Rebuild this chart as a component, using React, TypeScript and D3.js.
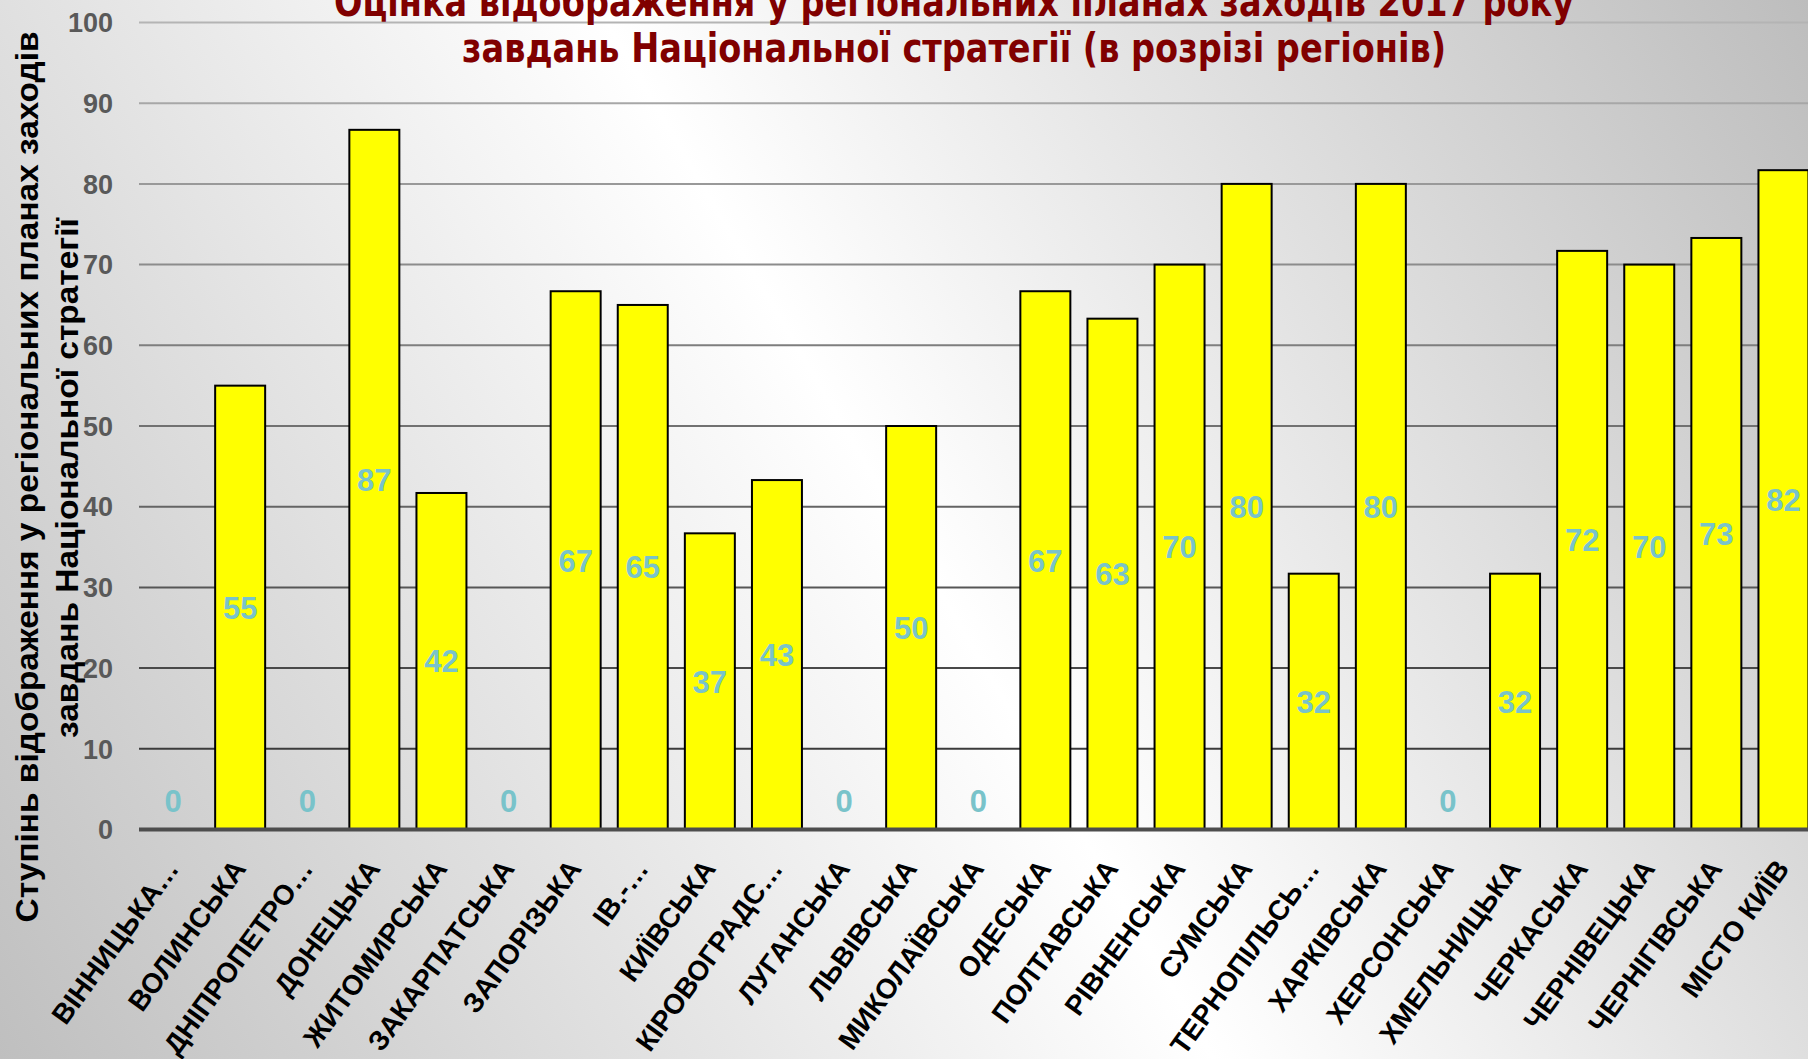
import React from 'react';
import * as d3 from 'd3';

const W = 1808;
const H = 1059;

// regions (as printed on the axis, truncated like the original)
const regions = [
    'ВІННИЦЬКА…', 'ВОЛИНСЬКА', 'ДНІПРОПЕТРО…', 'ДОНЕЦЬКА', 'ЖИТОМИРСЬКА',
    'ЗАКАРПАТСЬКА', 'ЗАПОРІЗЬКА', 'ІВ.-…', 'КИЇВСЬКА', 'КІРОВОГРАДС…',
    'ЛУГАНСЬКА', 'ЛЬВІВСЬКА', 'МИКОЛАЇВСЬКА', 'ОДЕСЬКА', 'ПОЛТАВСЬКА',
    'РІВНЕНСЬКА', 'СУМСЬКА', 'ТЕРНОПІЛЬСЬ…', 'ХАРКІВСЬКА', 'ХЕРСОНСЬКА',
    'ХМЕЛЬНИЦЬКА', 'ЧЕРКАСЬКА', 'ЧЕРНІВЕЦЬКА', 'ЧЕРНІГІВСЬКА', 'МІСТО КИЇВ',
];

// degree of reflection, %
const values = [
    0, 55, 0, 86.7, 41.7,
    0, 66.7, 65, 36.7, 43.3,
    0, 50, 0, 66.7, 63.3,
    70, 80, 31.7, 80, 0,
    31.7, 71.7, 70, 73.3, 81.7,
];

const yTicks = [0, 10, 20, 30, 40, 50, 60, 70, 80, 90, 100];

const titleLines = [
    'Оцінка відображення у регіональних планах заходів 2017 року',
    'завдань Національної стратегії (в розрізі регіонів)',
];
const yTitleLines = [
    'Ступінь відображення у регіональних планах заходів',
    'завдань Національної стратегії',
];

const arial = '"Liberation Sans", Arial, sans-serif';
const tahoma = '"DejaVu Sans Condensed", "DejaVu Sans", sans-serif';

export default function App() {
    const x = d3.scaleBand<string>()
        .domain(regions)
        .range([139.5, 1817])
        .paddingInner(0.255)
        .paddingOuter(0.1275);
    const y = d3.scaleLinear().domain([0, 100]).range([829.5, 22.5]);
    const gridColor = d3.interpolateRgb('#2e2e2e', '#b4b4b4');

    return (
        <svg width={W} height={H} style={{ position: 'absolute', left: 0, top: 0 }}>
            <defs>
                <linearGradient id="bg" gradientUnits="userSpaceOnUse" x1={0} y1={H} x2={W} y2={0}>
                    <stop offset="0" stopColor="#bfbfbf" />
                    <stop offset="0.5" stopColor="#ffffff" />
                    <stop offset="1" stopColor="#bdbdbd" />
                </linearGradient>
            </defs>
            <rect width={W} height={H} fill="url(#bg)" />

            {/* grid + y ticks */}
            {yTicks.map(t => (
                <g key={t}>
                    {t > 0 && (
                        <line x1={139} x2={W} y1={y(t)} y2={y(t)}
                            stroke={gridColor(t / 100)} strokeWidth={2} />
                    )}
                    <text x={113} y={y(t)} dy="0.36em" textAnchor="end"
                        fontFamily={arial} fontWeight="bold" fontSize={27} fill="#595959">
                        {t}
                    </text>
                </g>
            ))}

            {/* bars */}
            {values.map((v, i) => (
                <rect key={regions[i]}
                    x={x(regions[i])} y={y(v)}
                    width={x.bandwidth()} height={y(0) - y(v)}
                    fill="#ffff00" stroke="#000" strokeWidth={2}
                    style={{ display: v > 0 ? undefined : 'none' }} />
            ))}

            <line x1={139} x2={W} y1={y(0)} y2={y(0)} stroke="#4d4d4d" strokeWidth={4} />

            {/* value labels */}
            {values.map((v, i) => (
                <text key={'v' + i}
                    x={(x(regions[i]) ?? 0) + x.bandwidth() / 2}
                    y={v > 0 ? y(v / 2) : y(0) - 29}
                    dy="0.36em" textAnchor="middle"
                    fontFamily={arial} fontWeight="bold" fontSize={31} fill="#79c3ca">
                    {Math.round(v)}
                </text>
            ))}

            {/* category labels */}
            {regions.map(r => {
                const cx = (x(r) ?? 0) + x.bandwidth() / 2;
                return (
                    <text key={r} transform={`translate(${cx + 7},869) rotate(-54)`}
                        textAnchor="end" fontFamily={arial} fontWeight="bold" fontSize={28} fill="#000">
                        {r}
                    </text>
                );
            })}

            {/* y axis title */}
            <text transform="translate(38,477) rotate(-90)" textAnchor="middle"
                fontFamily={arial} fontWeight="bold" fontSize={32} fill="#000"
                textLength={891} lengthAdjust="spacingAndGlyphs">
                {yTitleLines[0]}
            </text>
            <text transform="translate(78,478) rotate(-90)" textAnchor="middle"
                fontFamily={arial} fontWeight="bold" fontSize={32} fill="#000"
                textLength={520} lengthAdjust="spacingAndGlyphs">
                {yTitleLines[1]}
            </text>

            {/* title */}
            <text x={954} y={16} textAnchor="middle" fontFamily={tahoma} fontWeight="bold"
                fontSize={41} fill="#800000" textLength={1240} lengthAdjust="spacingAndGlyphs">
                {titleLines[0]}
            </text>
            <text x={954} y={62} textAnchor="middle" fontFamily={tahoma} fontWeight="bold"
                fontSize={41} fill="#800000" textLength={984} lengthAdjust="spacingAndGlyphs">
                {titleLines[1]}
            </text>
        </svg>
    );
}
